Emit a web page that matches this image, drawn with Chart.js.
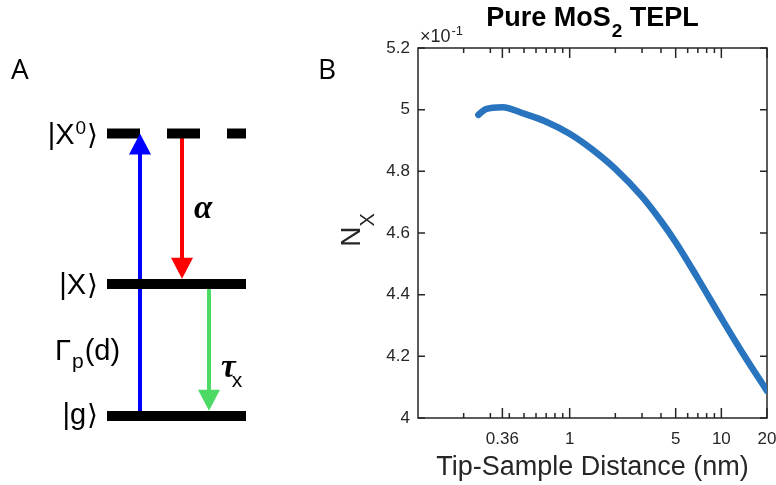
<!DOCTYPE html>
<html>
<head>
<meta charset="utf-8">
<script src="https://cdn.jsdelivr.net/npm/chart.js@4.4.1/dist/chart.umd.min.js"></script>
<style>
  body { margin: 0; background: #fff; width: 776px; height: 485px; position: relative; overflow: hidden; }
  #boxA { position: absolute; left: 0; top: 0; width: 300px; height: 485px; }
  #boxB { position: absolute; left: 300px; top: 0; width: 476px; height: 485px; }
  .panel { position: absolute; font-family: "Open Sans", sans-serif; font-size: 28px; line-height: 1; color: #000; }
</style>
</head>
<body>
<div id="boxA"><canvas id="diagram"></canvas></div>
<div id="boxB"><canvas id="chart"></canvas></div>
<div class="panel" style="left:11px; top:54px;">A</div>
<div class="panel" style="left:318px; top:54px;">B</div>
<script>
// panel B data: tip-sample distance (nm) vs N_X
const distance = [0.25, 0.28, 0.36, 0.5, 0.7, 1, 1.4, 2, 3, 4, 5, 7, 10, 14, 20];
const nx = [0.4983, 0.5002, 0.5008, 0.4987, 0.4961, 0.4922, 0.4872, 0.4808, 0.4718, 0.4639, 0.4570, 0.4453, 0.4324, 0.4206, 0.4088];
const xTickValues = [0.36, 1, 5, 10, 20];
const xMinorTicks = [0.2, 0.3, 0.4, 0.5, 0.6, 0.7, 0.8, 0.9, 2, 3, 4, 6, 7, 8, 9];
const yTickValues = [0.40, 0.42, 0.44, 0.46, 0.48, 0.50, 0.52];

// panel A data: energy levels (arbitrary units) and transitions
const levelNames = ['g', 'X', 'X0'];
const levelEnergy = [0, 1, 2.14];
const levelSpan = [1.07, 2.46];
const transitions = [
  { name: 'pump', x: 1.40, from: 0, to: 2.14, color: '#0000ff' },
  { name: 'alpha', x: 1.82, from: 2.14, to: 1.04, color: '#ff0000' },
  { name: 'tau', x: 2.09, from: 1, to: 0.04, color: '#4cd964' }
];

const sans = '"Liberation Sans", Arial, sans-serif';
const ink = '#262626';

// draws a list of text pieces side by side, each with its own font and vertical shift
function drawRuns(ctx, runs, x, y, align) {
  let total = 0;
  runs.forEach(r => { ctx.font = r.font; r.w = ctx.measureText(r.t).width + (r.dx || 0); total += r.w; });
  let cx = align === 'center' ? x - total / 2 : align === 'right' ? x - total : x;
  ctx.textAlign = 'left';
  ctx.textBaseline = 'alphabetic';
  runs.forEach(r => {
    ctx.font = r.font;
    ctx.fillText(r.t, cx + (r.dx || 0), y + (r.dy || 0));
    cx += r.w;
  });
}

// ---------- panel A ----------
const diagramPlugin = {
  id: 'diagramPlugin',
  beforeDatasetsDraw(chart) {
    const { ctx, scales: { x, y } } = chart;
    ctx.save();
    ctx.lineWidth = 4;
    transitions.forEach(t => {
      const px = x.getPixelForValue(t.x);
      const y0 = y.getPixelForValue(t.from);
      const y1 = y.getPixelForValue(t.to);
      const dir = y1 < y0 ? 1 : -1;
      ctx.strokeStyle = t.color;
      ctx.beginPath();
      ctx.moveTo(px, y0);
      ctx.lineTo(px, y1 + dir * 18);
      ctx.stroke();
    });
    ctx.restore();
  },
  afterDatasetsDraw(chart) {
    const { ctx, scales: { x, y } } = chart;
    ctx.save();
    transitions.forEach(t => {
      const px = x.getPixelForValue(t.x);
      const y0 = y.getPixelForValue(t.from);
      const y1 = y.getPixelForValue(t.to);
      const dir = y1 < y0 ? 1 : -1;
      ctx.fillStyle = t.color;
      ctx.beginPath();
      ctx.moveTo(px, y1);
      ctx.lineTo(px - 11, y1 + dir * 21);
      ctx.lineTo(px + 11, y1 + dir * 21);
      ctx.closePath();
      ctx.fill();
    });

    ctx.fillStyle = '#000';
    const lx = x.getPixelForValue(0.98);
    const kf = '29px ' + sans;
    const close = { t: '\u27E9', font: '28px "DejaVu Sans", sans-serif', dx: 1 };
    drawRuns(ctx, [{ t: '|X', font: kf }, { t: '0', font: '19px ' + sans, dy: -10, dx: 1 }, close], lx, y.getPixelForValue(levelEnergy[2]) + 10, 'right');
    drawRuns(ctx, [{ t: '|X', font: kf }, close], lx, y.getPixelForValue(levelEnergy[1]) + 10, 'right');
    drawRuns(ctx, [{ t: '|g', font: kf }, close], lx, y.getPixelForValue(levelEnergy[0]) + 8, 'right');

    drawRuns(ctx, [
      { t: '\u0393', font: '29px ' + sans },
      { t: 'p', font: '21px ' + sans, dy: 8, dx: 1 },
      { t: '(d)', font: '29px ' + sans, dx: 1 }
    ], x.getPixelForValue(0.55), y.getPixelForValue(0.5) + 10, 'left');

    drawRuns(ctx, [{ t: '\u03B1', font: 'bold italic 33px "Liberation Serif", serif' }],
      x.getPixelForValue(1.94), y.getPixelForValue(1.56) + 8, 'left');
    drawRuns(ctx, [
      { t: '\u03C4', font: 'bold italic 33px "Liberation Serif", serif' },
      { t: 'x', font: '21px ' + sans, dy: 10, dx: -4 }
    ], x.getPixelForValue(2.21), y.getPixelForValue(0.35) + 7, 'left');
    ctx.restore();
  }
};

new Chart(document.getElementById('diagram'), {
  type: 'scatter',
  data: {
    datasets: levelNames.map((n, i) => ({
      label: n,
      data: [{ x: levelSpan[0], y: levelEnergy[i] }, { x: levelSpan[1], y: levelEnergy[i] }],
      showLine: true,
      borderColor: '#000',
      borderWidth: 10,
      borderCapStyle: 'butt',
      borderDash: n === 'X0' ? [33, 27] : [],
      pointRadius: 0
    }))
  },
  options: {
    responsive: true,
    maintainAspectRatio: false,
    animation: false,
    layout: { padding: 0 },
    plugins: { legend: { display: false }, tooltip: { enabled: false } },
    scales: {
      x: { display: false, min: 0, max: 3 },
      y: { display: false, min: -0.523, max: 3.152 }
    }
  },
  plugins: [diagramPlugin]
});

// ---------- panel B ----------
const framePlugin = {
  id: 'framePlugin',
  beforeDatasetsDraw(chart) {
    const { ctx, chartArea: a, scales: { x, y } } = chart;
    ctx.save();
    ctx.strokeStyle = ink;
    ctx.lineWidth = 1.5;
    ctx.strokeRect(a.left, a.top, a.right - a.left, a.bottom - a.top);
    ctx.beginPath();
    const xt = (v, len) => {
      const px = x.getPixelForValue(v);
      ctx.moveTo(px, a.bottom); ctx.lineTo(px, a.bottom - len);
      ctx.moveTo(px, a.top); ctx.lineTo(px, a.top + len);
    };
    xTickValues.forEach(v => xt(v, 10));
    xMinorTicks.forEach(v => xt(v, 5));
    yTickValues.forEach(v => {
      const py = y.getPixelForValue(v);
      ctx.moveTo(a.left, py); ctx.lineTo(a.left + 7, py);
      ctx.moveTo(a.right, py); ctx.lineTo(a.right - 7, py);
    });
    ctx.stroke();
    ctx.restore();
  },
  afterDraw(chart) {
    const { ctx, chartArea: a } = chart;
    ctx.save();
    ctx.fillStyle = '#000';
    drawRuns(ctx, [
      { t: 'Pure MoS', font: 'bold 27px ' + sans },
      { t: '2', font: 'bold 19px ' + sans, dy: 11, dx: 1 },
      { t: ' TEPL', font: 'bold 27px ' + sans }
    ], (a.left + a.right) / 2, 26, 'center');

    ctx.fillStyle = ink;
    drawRuns(ctx, [
      { t: '\u00D710', font: '18px ' + sans },
      { t: '-1', font: '13px ' + sans, dy: -7, dx: 1 }
    ], a.left + 2, a.top - 6, 'left');

    ctx.translate(a.left - 58, (a.top + a.bottom) / 2 - 3);
    ctx.rotate(-Math.PI / 2);
    drawRuns(ctx, [
      { t: 'N', font: '28px ' + sans },
      { t: 'X', font: '20px ' + sans, dy: 14 }
    ], 0, 0, 'center');
    ctx.restore();
  }
};

new Chart(document.getElementById('chart'), {
  type: 'line',
  data: {
    datasets: [{
      label: 'N_X',
      data: distance.map((d, i) => ({ x: d, y: nx[i] })),
      borderColor: '#2874be',
      borderWidth: 6.5,
      borderCapStyle: 'round',
      borderJoinStyle: 'round',
      cubicInterpolationMode: 'monotone',
      pointRadius: 0
    }]
  },
  options: {
    responsive: true,
    maintainAspectRatio: false,
    animation: false,
    layout: { padding: { top: 48, right: 9, left: 0, bottom: 0 } },
    plugins: { legend: { display: false }, tooltip: { enabled: false } },
    scales: {
      x: {
        type: 'logarithmic',
        min: 0.1,
        max: 20,
        grid: { display: false, drawTicks: false },
        border: { display: false },
        afterBuildTicks: s => { s.ticks = xTickValues.map(v => ({ value: v })); },
        afterFit: s => { s.height = 67; s.paddingLeft = 0; s.paddingRight = 0; },
        ticks: {
          autoSkip: false, maxRotation: 0, padding: 11, color: ink,
          font: { family: sans, size: 17 },
          callback: v => String(v)
        },
        title: {
          display: true, text: 'Tip-Sample Distance (nm)', color: ink,
          font: { family: sans, size: 27 }, padding: { top: 0, bottom: 1 }
        }
      },
      y: {
        min: 0.40,
        max: 0.52,
        grid: { display: false, drawTicks: false },
        border: { display: false },
        afterBuildTicks: s => { s.ticks = yTickValues.map(v => ({ value: v })); },
        afterFit: s => { s.width = 118; },
        ticks: {
          padding: 8, color: ink,
          font: { family: sans, size: 17 },
          callback: v => String(Math.round(v * 100) / 10)
        }
      }
    }
  },
  plugins: [framePlugin]
});
</script>
</body>
</html>
